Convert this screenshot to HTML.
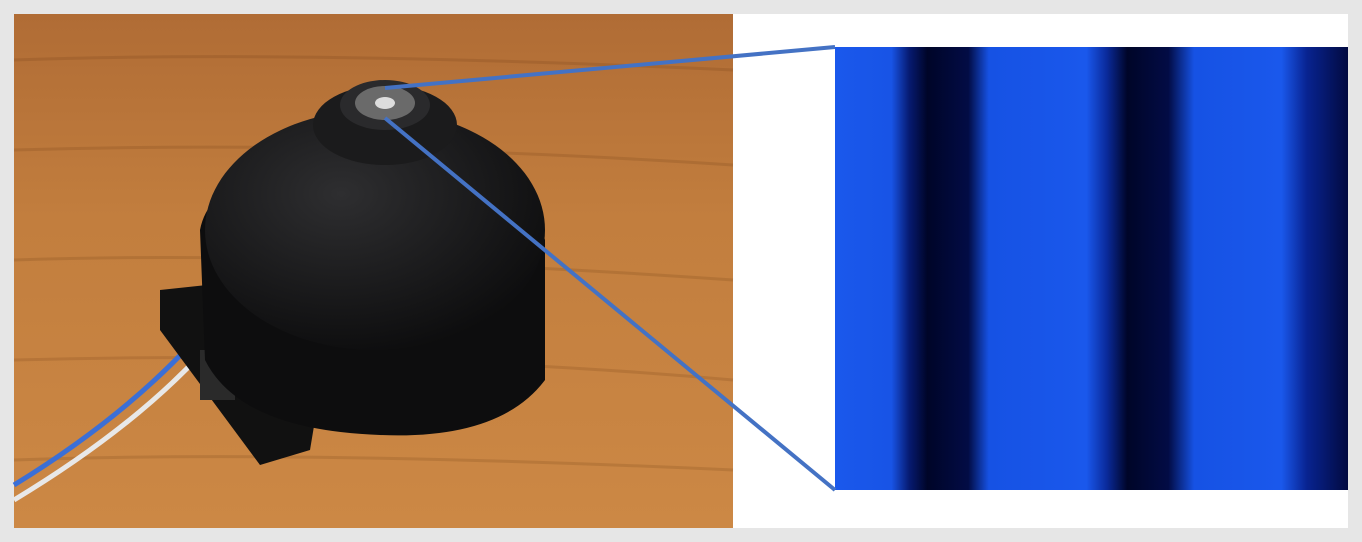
<!DOCTYPE html>
<html><head><meta charset="utf-8"><style>
html,body{margin:0;padding:0;background:#e6e6e6;width:1362px;height:542px;overflow:hidden}
#frame{position:absolute;left:14px;top:14px;width:1334px;height:514px;background:#fff}
</style></head><body>
<div id="frame"></div>
<svg width="1362" height="542" style="position:absolute;left:0;top:0">
<defs>
<linearGradient id="wood" x1="0" y1="0" x2="0" y2="1">
<stop offset="0" stop-color="#b06c35"/><stop offset="0.4" stop-color="#c27e3e"/><stop offset="1" stop-color="#cc8845"/>
</linearGradient>
<radialGradient id="dome" cx="0.4" cy="0.35" r="0.7">
<stop offset="0" stop-color="#2e2e30"/><stop offset="1" stop-color="#0c0c0d"/>
</radialGradient>
<linearGradient id="stripes" x1="0" y1="0" x2="1" y2="0">
<stop offset="0" stop-color="#1a58ec"/><stop offset="0.11" stop-color="#1854e6"/>
<stop offset="0.145" stop-color="#061a70"/><stop offset="0.18" stop-color="#000528"/><stop offset="0.26" stop-color="#020c45"/>
<stop offset="0.30" stop-color="#1652e4"/><stop offset="0.49" stop-color="#1a58ec"/><stop offset="0.53" stop-color="#0a2a9a"/>
<stop offset="0.57" stop-color="#000528"/><stop offset="0.65" stop-color="#020c45"/><stop offset="0.70" stop-color="#1652e4"/>
<stop offset="0.87" stop-color="#1a58ec"/><stop offset="0.92" stop-color="#082390"/><stop offset="1" stop-color="#020a40"/>
</linearGradient>
</defs>
<g>
<rect x="14" y="14" width="719" height="514" fill="url(#wood)"/>
<g opacity="0.18" stroke="#6b3a12" stroke-width="3" fill="none">
<path d="M14 60 Q300 50 733 70"/><path d="M14 150 Q350 140 733 165"/><path d="M14 260 Q300 250 733 280"/>
<path d="M14 360 Q400 350 733 380"/><path d="M14 460 Q300 450 733 470"/>
</g>
<path d="M14 485 Q120 420 190 345" stroke="#3b6fd6" stroke-width="5" fill="none"/>
<path d="M14 500 Q130 430 200 355" stroke="#e8e8e8" stroke-width="5" fill="none"/>
<path d="M160 290 L300 275 L330 330 L310 450 L260 465 L160 330 Z" fill="#111"/>
<rect x="200" y="350" width="35" height="50" fill="#2a2a2a"/>
<path d="M200 230 Q210 175 320 150 L460 150 Q530 175 545 240 L545 380 Q500 440 380 435 Q240 430 205 360 Z" fill="#0d0d0e"/>
<ellipse cx="375" cy="230" rx="170" ry="120" fill="url(#dome)"/>
<ellipse cx="385" cy="125" rx="72" ry="40" fill="#1b1b1c"/>
<ellipse cx="385" cy="105" rx="45" ry="25" fill="#2a2a2c"/>
<ellipse cx="385" cy="103" rx="30" ry="17" fill="#6a6a6a"/>
<ellipse cx="385" cy="103" rx="10" ry="6" fill="#ddd"/>
</g>
<rect x="835" y="47" width="513" height="443" fill="url(#stripes)"/>
<line x1="385" y1="88" x2="835" y2="47" stroke="#4472c4" stroke-width="4"/>
<line x1="385" y1="118" x2="835" y2="490" stroke="#4472c4" stroke-width="4"/>
</svg>
</body></html>
